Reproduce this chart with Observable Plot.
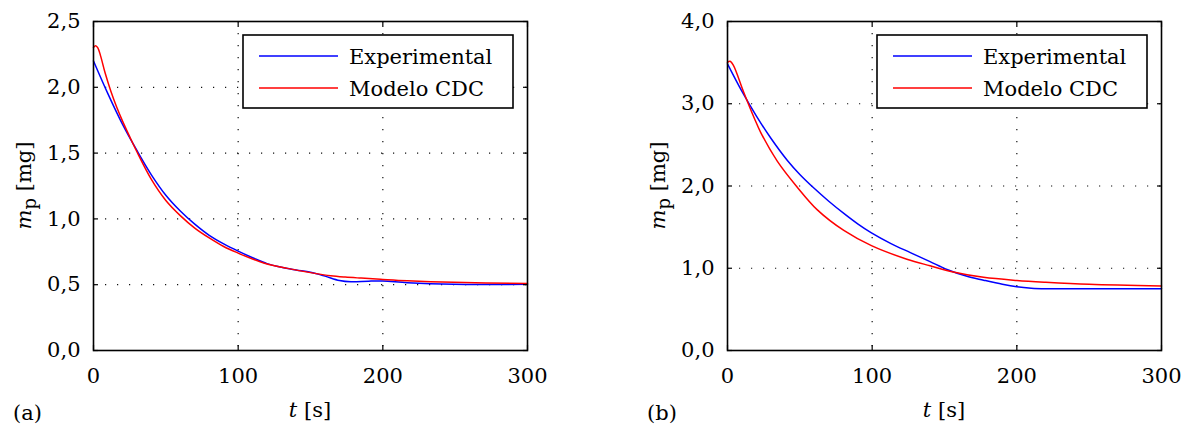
<!DOCTYPE html>
<html><head><meta charset="utf-8">
<script src="https://cdn.jsdelivr.net/npm/d3@7"></script>
<script src="https://cdn.jsdelivr.net/npm/@observablehq/plot@0.6"></script>
<style>
body{margin:0;background:#fff;}
#wrap{display:flex;width:1189px;height:432px;overflow:hidden;}
#wrap svg{display:block;}
#wrap svg, #wrap svg text, #wrap svg tspan{font-family:"DejaVu Serif" !important;}
</style></head><body><div id="wrap"></div>
<script>
// ---- data (a) ----
const tExpA = [0, 10, 20, 30, 40, 50, 60, 70, 80, 90, 100, 110, 120, 130, 140, 150, 160, 170, 178, 190, 200, 217, 249, 300];
const vExpA = [2.20, 1.95, 1.72, 1.52, 1.335, 1.18, 1.06, 0.96, 0.875, 0.81, 0.755, 0.705, 0.66, 0.632, 0.612, 0.594, 0.565, 0.532, 0.522, 0.527, 0.528, 0.515, 0.503, 0.503];
const tCdcA = [0, 1.5, 3, 5, 8, 12, 16, 20, 25, 30, 40, 50, 60, 70, 80, 90, 100, 110, 120, 134, 153, 164, 174, 185, 200, 217, 249, 300];
const vCdcA = [2.303, 2.316, 2.30, 2.235, 2.11, 1.97, 1.85, 1.745, 1.625, 1.51, 1.30, 1.14, 1.025, 0.93, 0.855, 0.79, 0.74, 0.695, 0.657, 0.624, 0.586, 0.568, 0.558, 0.550, 0.540, 0.530, 0.518, 0.510];
// ---- data (b) ----
const tExpB = [0, 10, 20, 30, 41.4, 50, 59.7, 70, 80.4, 90, 99.5, 113, 126.4, 140, 151.7, 165, 177, 190, 200, 210, 220, 250, 300];
const vExpB = [3.485, 3.15, 2.85, 2.58, 2.31, 2.14, 1.975, 1.815, 1.667, 1.54, 1.43, 1.30, 1.19, 1.08, 0.985, 0.905, 0.855, 0.805, 0.775, 0.758, 0.752, 0.752, 0.752];
const tCdcB = [0, 1.8, 4, 11, 18.4, 23, 34.5, 47.8, 62.1, 80.4, 99.5, 124, 140, 156, 177, 200, 220, 250, 300];
const vCdcB = [3.504, 3.516, 3.47, 3.15, 2.83, 2.65, 2.30, 1.995, 1.71, 1.46, 1.275, 1.11, 1.03, 0.955, 0.89, 0.852, 0.83, 0.805, 0.785];
// ---- ticks / labels ----
const xTicks = [0, 100, 200, 300];
const yTicksA = [0, 0.5, 1, 1.5, 2, 2.5];
const yTicksB = [0, 1, 2, 3, 4];
const seriesNames = ["Experimental", "Modelo CDC"];
const seriesColors = ["#0000ff", "#ff0000"];

const FONT = "DejaVu Serif";
const FS = 21;
const fmt = d => d.toFixed(1).replace(".", ",");

function panel({width, ml, mr, yMax, yTicks, tE, vE, tC, vC, tag}) {
  const exp = tE.map((t, i) => ({t, v: vE[i]}));
  const cdc = tC.map((t, i) => ({t, v: vC[i]}));
  const mt = 21, mb = 82, H = 432;
  const grid = {stroke: "#111", strokeOpacity: 1, strokeWidth: 1.2, strokeDasharray: "1.2,10.8"};
  const plot = Plot.plot({
    width, height: H, marginLeft: ml, marginRight: mr, marginTop: mt, marginBottom: mb,
    style: {"font-family": FONT, "font-size": FS + "px", color: "#000", background: "#fff"},
    x: {domain: [0, 300]},
    y: {domain: [0, yMax]},
    marks: [
      Plot.gridX(xTicks.slice(1, -1), grid),
      Plot.gridY(yTicks.slice(1, -1), grid),
      Plot.line(exp, {x: "t", y: "v", stroke: seriesColors[0], strokeWidth: 1.5, curve: "catmull-rom"}),
      Plot.line(cdc, {x: "t", y: "v", stroke: seriesColors[1], strokeWidth: 1.5, curve: "catmull-rom"}),
      Plot.axisX(xTicks, {anchor: "bottom", tickSize: -5, tickPadding: 23, tickFormat: d => String(d), label: null, strokeWidth: 1.2}),
      Plot.axisX(xTicks, {anchor: "top", tickSize: -5, tickFormat: () => "", label: null, strokeWidth: 1.2}),
      Plot.axisY(yTicks, {anchor: "left", tickSize: -5, tickPadding: 18, tickFormat: fmt, label: null, strokeWidth: 1.2}),
      Plot.axisY(yTicks, {anchor: "right", tickSize: -5, tickFormat: () => "", label: null, strokeWidth: 1.2}),
      Plot.frame({stroke: "#000", strokeWidth: 1.6})
    ]
  });
  const svg = d3.select(plot);
  const fl = ml, fr = width - mr, ft = mt, fb = H - mb;
  const g = svg.append("g").attr("font-family", FONT).attr("font-size", FS).attr("fill", "#000")
    .attr("text-anchor", "start");
  // legend
  const lw = 270, lh = 73, lx = fr - 14 - lw, ly = 35;
  g.append("rect").attr("x", lx).attr("y", ly).attr("width", lw).attr("height", lh)
    .attr("fill", "#fff").attr("stroke", "#000").attr("stroke-width", 1.6);
  seriesNames.forEach((name, i) => {
    const ry = ly + 21 + i * 32;
    g.append("line").attr("x1", lx + 16).attr("x2", lx + 95).attr("y1", ry).attr("y2", ry)
      .attr("stroke", seriesColors[i]).attr("stroke-width", 1.5);
    g.append("text").attr("x", lx + 106).attr("y", ry + 8).attr("text-anchor", "start").text(name);
  });
  // x label
  const xl = g.append("text").attr("x", (fl + fr) / 2).attr("y", 417).attr("text-anchor", "middle");
  xl.append("tspan").attr("font-style", "italic").text("t");
  xl.append("tspan").text(" [s]");
  // y label
  const yl = g.append("text").attr("transform", `translate(${ml - 62},${(ft + fb) / 2}) rotate(-90)`)
    .attr("text-anchor", "middle");
  yl.append("tspan").attr("font-style", "italic").text("m");
  yl.append("tspan").attr("font-size", 18).attr("dy", 5).text("p");
  yl.append("tspan").attr("dy", -5).text(" [mg]");
  // panel tag
  g.append("text").attr("x", ml - 80).attr("y", 420).attr("text-anchor", "start").text(tag);
  return plot;
}

const wrap = document.getElementById("wrap");
wrap.append(panel({width: 594, ml: 93, mr: 67, yMax: 2.5, yTicks: yTicksA, tE: tExpA, vE: vExpA, tC: tCdcA, vC: vCdcA, tag: "(a)"}));
wrap.append(panel({width: 595, ml: 133, mr: 28, yMax: 4, yTicks: yTicksB, tE: tExpB, vE: vExpB, tC: tCdcB, vC: vCdcB, tag: "(b)"}));
</script></body></html>
